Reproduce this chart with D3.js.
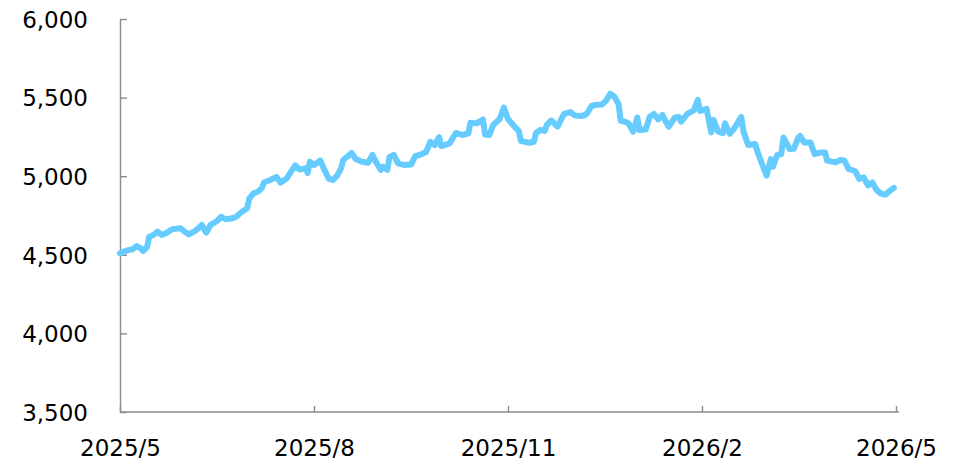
<!DOCTYPE html>
<html>
<head>
<meta charset="utf-8">
<script src="https://cdn.jsdelivr.net/npm/d3@7"></script>
<style>
  html, body { margin: 0; padding: 0; background: #fff; }
  svg { display: block; }
  .axis text { font-family: "DejaVu Sans", Verdana, sans-serif; font-size: 23px; fill: #000; }
  .axis path, .axis line { stroke: #8c8c8c; stroke-width: 1.4px; }
</style>
</head>
<body>
<svg id="chart" width="956" height="461"></svg>
<script>
// ---- data ----
const dates = [
  "2025-05-01","2025-05-03","2025-05-05","2025-05-07","2025-05-09","2025-05-11","2025-05-12","2025-05-14","2025-05-15","2025-05-17","2025-05-19","2025-05-21","2025-05-23","2025-05-26","2025-05-30",
  "2025-06-01","2025-06-03","2025-06-06","2025-06-09","2025-06-11","2025-06-13","2025-06-16","2025-06-18","2025-06-20","2025-06-23","2025-06-25","2025-06-27","2025-06-30",
  "2025-07-01","2025-07-03","2025-07-05","2025-07-07","2025-07-08","2025-07-11","2025-07-14","2025-07-16","2025-07-19","2025-07-21","2025-07-23","2025-07-25","2025-07-28","2025-07-29","2025-07-30",
  "2025-08-01","2025-08-04","2025-08-06","2025-08-08","2025-08-10","2025-08-12","2025-08-14","2025-08-15","2025-08-17","2025-08-19","2025-08-21","2025-08-24","2025-08-27","2025-08-29","2025-08-31",
  "2025-09-02","2025-09-03","2025-09-05","2025-09-06","2025-09-08","2025-09-10","2025-09-13","2025-09-16","2025-09-18","2025-09-21","2025-09-23","2025-09-25","2025-09-27","2025-09-29","2025-09-30",
  "2025-10-04","2025-10-07","2025-10-10","2025-10-13","2025-10-14","2025-10-17","2025-10-20","2025-10-21","2025-10-23","2025-10-25","2025-10-28","2025-10-30",
  "2025-11-01","2025-11-04","2025-11-06","2025-11-07","2025-11-09","2025-11-11","2025-11-13","2025-11-14","2025-11-16","2025-11-18","2025-11-19","2025-11-21","2025-11-24","2025-11-27","2025-11-30",
  "2025-12-02","2025-12-05","2025-12-07","2025-12-08","2025-12-10","2025-12-12","2025-12-15","2025-12-17","2025-12-19","2025-12-21","2025-12-23","2025-12-24","2025-12-27","2025-12-28","2025-12-30",
  "2026-01-01","2026-01-02","2026-01-05","2026-01-07","2026-01-09","2026-01-11","2026-01-13","2026-01-16","2026-01-19","2026-01-21","2026-01-22","2026-01-25","2026-01-28","2026-01-30","2026-01-31",
  "2026-02-03","2026-02-05","2026-02-06","2026-02-08","2026-02-10","2026-02-11","2026-02-13","2026-02-15","2026-02-18","2026-02-19","2026-02-21","2026-02-24","2026-02-25","2026-02-27",
  "2026-03-01","2026-03-03","2026-03-04","2026-03-06","2026-03-08","2026-03-09","2026-03-12","2026-03-14","2026-03-16","2026-03-17","2026-03-19","2026-03-22","2026-03-24","2026-03-27","2026-03-29","2026-03-30",
  "2026-04-03","2026-04-05","2026-04-07","2026-04-09","2026-04-12","2026-04-14","2026-04-16","2026-04-18","2026-04-20","2026-04-22","2026-04-24","2026-04-26","2026-04-28","2026-04-30"
];
const values = [
  4510,4521,4530,4535,4556,4541,4524,4551,4615,4626,4647,4626,4637,4662,4669,
  4647,4630,4653,4690,4641,4690,4715,4742,4726,4732,4742,4768,4796,
  4859,4891,4901,4925,4960,4976,4995,4959,4987,5029,5068,5043,5050,5020,5092,
  5071,5100,5040,4985,4976,5001,5052,5103,5124,5148,5109,5092,5086,5135,5084,
  5040,5060,5040,5122,5135,5082,5071,5074,5128,5141,5154,5219,5198,5249,5192,
  5209,5275,5262,5273,5340,5336,5361,5265,5262,5326,5364,5437,
  5364,5315,5288,5224,5218,5213,5219,5275,5294,5288,5326,5354,5316,5396,5408,
  5386,5383,5389,5402,5447,5453,5456,5480,5525,5506,5459,5354,5342,5332,5283,
  5373,5294,5297,5379,5396,5361,5389,5315,5373,5377,5347,5396,5418,5485,5415,
  5428,5278,5358,5283,5273,5336,5270,5305,5377,5281,5198,5205,5156,5078,
  5004,5109,5060,5135,5141,5246,5173,5174,5241,5256,5214,5214,5140,5151,5151,5099,
  5088,5103,5100,5046,5033,4982,4993,4941,4960,4912,4889,4882,4906,4926
];
const xTickDates = ["2025-05-01","2025-08-01","2025-11-01","2026-02-01","2026-05-01"];
const xTickLabels = ["2025/5","2025/8","2025/11","2026/2","2026/5"];
const yTicks = [3500, 4000, 4500, 5000, 5500, 6000];

// month-based date position (equal spacing per month)
function monthPos(s) {
  const [yy, mm, dd] = s.split("-").map(Number);
  const dim = new Date(yy, mm, 0).getDate();
  return (yy - 2025) * 12 + (mm - 5) + (dd - 1) / dim;
}

const svg = d3.select("#chart");
const M = { left: 120, right: 896, top: 19, bottom: 412 };

const x = d3.scaleLinear().domain([0, 12]).range([M.left, M.right]);
const y = d3.scaleLinear().domain([3500, 6000]).range([M.bottom, M.top]);

const data = dates.map((d, i) => ({ p: monthPos(d), v: values[i] }));

// y axis
const yAxis = d3.axisLeft(y)
  .tickValues(yTicks)
  .tickFormat(d3.format(","))
  .tickSize(-7)
  .tickSizeOuter(0)
  .tickPadding(32);
const gy = svg.append("g").attr("class", "axis")
  .attr("transform", `translate(${M.left},0)`)
  .call(yAxis);
gy.selectAll("text").attr("dy", "0.36em");

// x axis
const xAxis = d3.axisBottom(x)
  .tickValues(xTickDates.map(monthPos))
  .tickFormat((d, i) => xTickLabels[i])
  .tickSize(-6)
  .tickSizeOuter(0)
  .tickPadding(28);
const gx = svg.append("g").attr("class", "axis")
  .attr("transform", `translate(0,${M.bottom})`)
  .call(xAxis);
gx.select(".domain").attr("d", `M${M.left},0H${M.right + 3}`);

// line
const line = d3.line().x(d => x(d.p)).y(d => y(d.v));
svg.append("path")
  .datum(data)
  .attr("fill", "none")
  .attr("stroke", "#66ccff")
  .attr("stroke-width", 6)
  .attr("stroke-linejoin", "round")
  .attr("stroke-linecap", "round")
  .attr("d", line);
</script>
</body>
</html>
